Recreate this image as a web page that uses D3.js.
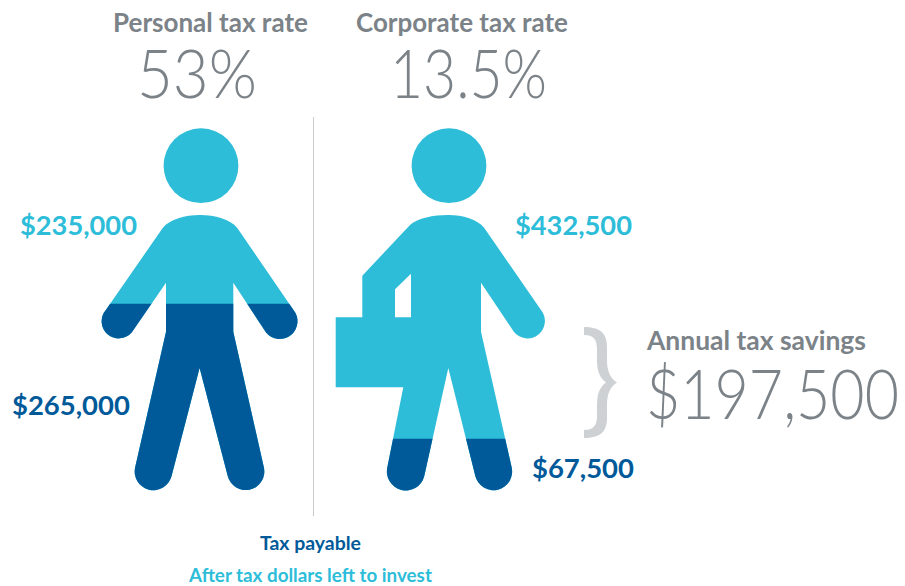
<!DOCTYPE html>
<html>
<head>
<meta charset="utf-8">
<script src="https://cdn.jsdelivr.net/npm/d3@7"></script>
<style>
  html, body { margin: 0; padding: 0; background: #fff; }
  svg { display: block; }
  text { font-family: Lato, "Open Sans", sans-serif; }
</style>
</head>
<body>
<div id="chart"></div>
<script>
// Personal vs corporate tax on $500,000 of income
const people = ["personal", "corporate"];
const rateTitles = ["Personal tax rate", "Corporate tax rate"];
const taxRates = [0.53, 0.135];
const taxPayable = [265000, 67500];
const afterTax = [235000, 432500];
const savings = [197500];
const legendLabels = ["Tax payable", "After tax dollars left to invest"];

const light = "#2dbdd9";
const dark = "#005a9a";
const grey = "#7b8288";

const svg = d3.select("#chart").append("svg")
  .attr("width", 905)
  .attr("height", 586);

// where the fill changes colour on the figures
const y = d3.scaleLinear()
  .domain([0, taxPayable[0] + afterTax[0]])
  .range([485, 143]);

// silhouettes (pictogram outlines, not data)
const heads = { personal: [201, 165.7], corporate: [449, 165.7] };
const bodies = {
  personal: `M162.7 228 C170 219 185 215 200 215 C215 215 230 219 237.3 228
    L293.5 310 A16.7 16.7 0 0 1 266 332.5 L233.3 282.7 L233.3 331.7 L263.8 467
    A18.6 18.6 0 0 1 227.7 476 L199.6 368 L171.6 476 A18.6 18.6 0 0 1 135.2 467
    L166 331.7 L166 282.7 L131.7 332.5 A16.7 16.7 0 0 1 105.8 310 Z`,
  corporate: `M410 225 C418 218 433 215 448.3 215 C463 215 477 219 484.3 228
    L541 310 A16.7 16.7 0 0 1 514 332 L481 282.7 L481 331.7 L511.6 467
    A18.6 18.6 0 0 1 475.3 476 L448.3 368 L424.3 476 A18.6 18.6 0 0 1 387.4 467
    L403.3 387.3 L335.7 387.3 L335.7 317.3 L362.3 317.3 L362.3 275.7 Z
    M395 317.3 L411 317.3 L411 273.7 L395 289.3 Z`
};

const defs = svg.append("defs");
defs.selectAll("clipPath")
  .data(people)
  .join("clipPath")
  .attr("id", d => `tax-${d}`)
  .append("rect")
  .attr("x", 0)
  .attr("width", 905)
  .attr("y", (d, i) => y(taxPayable[i]))
  .attr("height", (d, i) => 586 - y(taxPayable[i]));

const figures = svg.selectAll("g.figure")
  .data(people)
  .join("g")
  .attr("class", "figure");

figures.append("circle")
  .attr("cx", d => heads[d][0])
  .attr("cy", d => heads[d][1])
  .attr("r", 37.4)
  .attr("fill", light);

figures.append("path")
  .attr("d", d => bodies[d])
  .attr("fill", light)
  .attr("fill-rule", "evenodd");

figures.append("path")
  .attr("d", d => bodies[d])
  .attr("fill", dark)
  .attr("fill-rule", "evenodd")
  .attr("clip-path", d => `url(#tax-${d})`);

// divider
svg.append("line")
  .attr("x1", 313.5).attr("x2", 313.5)
  .attr("y1", 117).attr("y2", 516)
  .attr("stroke", "#c9cccf")
  .attr("stroke-width", 1);

// brace next to the savings figure
svg.append("path")
  .attr("d", `M584 327 C600 327 607 333 607 347 L607 360 C607 371 610 378 617 382.5
    C610 387 607 394 607 405 L607 418 C607 432 600 438 584 438 L584 430
    C593 430 597 426 597 416 L597 405 C597 393 600 387 606 382.5
    C600 378 597 372 597 360 L597 349 C597 339 593 335 584 335 Z`)
  .attr("fill", "#cdd1d3");

// squeeze each label horizontally to the width it has in the picture
function label(str, x, base, w, size, weight, color) {
  const t = svg.append("text")
    .attr("font-size", size)
    .attr("font-weight", weight)
    .attr("fill", color)
    .text(str);
  const sx = w / t.node().getComputedTextLength();
  t.attr("transform", `translate(${x} ${base}) scale(${sx} 1)`);
}

const money = d3.format("$,");
const pct = d3.format(".3~%");

label(rateTitles[0], 113, 32, 195, 27, 700, grey);
label(rateTitles[1], 356, 32, 212, 27, 700, grey);
label(pct(taxRates[0]), 137, 98, 120, 67, 300, grey);
label(pct(taxRates[1]), 390, 98, 157, 67, 300, grey);

label(money(afterTax[0]), 20, 235, 117, 27, 700, light);
label(money(taxPayable[0]), 12, 415, 118, 27, 700, dark);
label(money(afterTax[1]), 515, 235, 117, 27, 700, light);
label(money(taxPayable[1]), 532, 478, 102, 27, 700, dark);

label("Annual tax savings", 647, 350, 219, 26, 700, grey);
label(money(savings[0]), 646, 419, 253, 68, 300, grey);

label(legendLabels[0], 260, 550, 101, 19, 700, dark);
label(legendLabels[1], 189, 582, 243, 19, 700, light);
</script>
</body>
</html>
